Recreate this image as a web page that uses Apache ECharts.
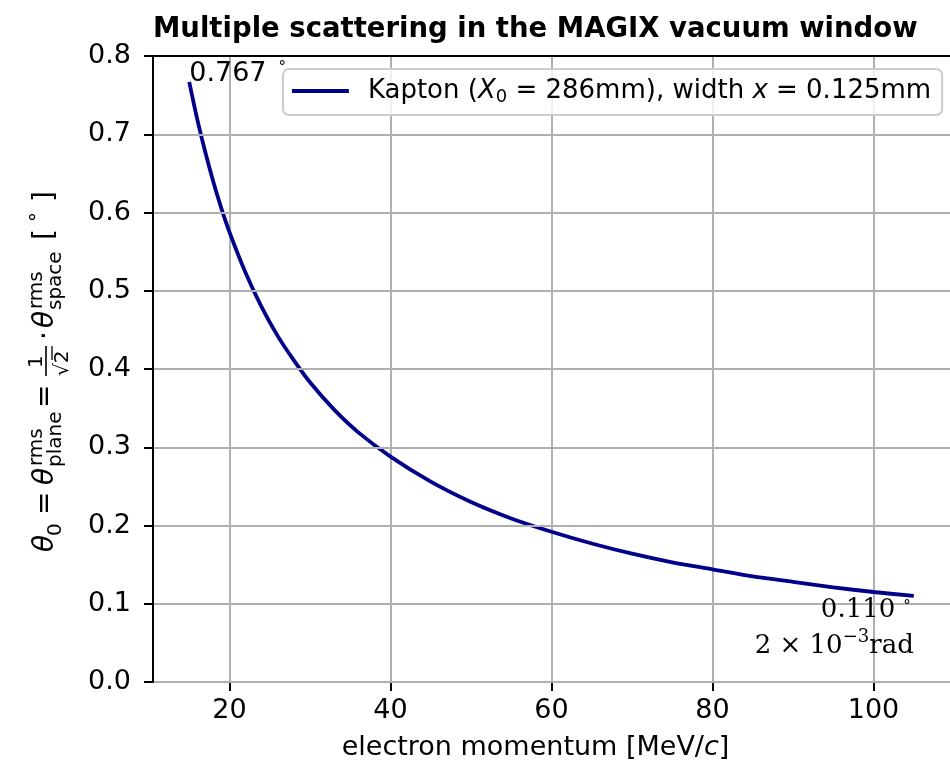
<!DOCTYPE html>
<html lang="en">
<head>
<meta charset="UTF-8">
<title>Multiple scattering in the MAGIX vacuum window</title>
<script src="https://cdn.jsdelivr.net/npm/echarts@6/dist/echarts.min.js"></script>
<style>
body{margin:0;background:#fff}
#main{width:950px;height:770px}
</style>
</head>
<body>
<div id="main"></div>
<script type="text/javascript">
// electron momentum [MeV/c] and theta_0 [deg]
var momentum = [15, 16, 17, 18, 19, 20, 22, 24, 26, 28, 30, 33, 36, 40, 45, 50, 55, 60, 65, 70, 75, 80, 85, 90, 95, 100, 105];
var theta = [0.767, 0.719, 0.677, 0.639, 0.605, 0.575, 0.523, 0.479, 0.442, 0.411, 0.383, 0.348, 0.319, 0.288, 0.256, 0.230, 0.209, 0.192, 0.177, 0.164, 0.153, 0.144, 0.135, 0.128, 0.121, 0.115, 0.110];
var xTicks = [20, 40, 60, 80, 100];
var seriesName = 'Kapton';

var FONT = 'DejaVu Sans';
var TS = 27;
var LS = 26;
var myChart = echarts.init(document.getElementById('main'));

var curve = [];
for (var i = 0; i < momentum.length; i++) {
    curve.push([momentum[i], theta[i]]);
}
var last = momentum.length - 1;

// y axis label, typeset piece by piece: [text, along, baseline offset, size, italic]
var FS = 28, SS = 20;
var pieces = [
    ['θ', 0, 0, FS, true],
    ['0', 16, 7, SS, false],
    ['=', 37, 0, FS, false],
    ['θ', 67, 0, FS, true],
    ['rms', 86, -12, SS, false],
    ['plane', 85, 7, SS, false],
    ['=', 144, 0, FS, false],
    ['1', 184, -12, SS, false],
    ['√2', 176, 14, SS, false],
    ['·', 212, 0, FS, false],
    ['θ', 224, 0, FS, true],
    ['rms', 243, -12, SS, false],
    ['space', 242, 7, SS, false],
    ['[', 312, 0, FS, false],
    ['°', 330, -10, SS, false],
    [']', 350, 0, FS, false]
];
var labelKids = pieces.map(function (p) {
    return {
        type: 'text',
        x: p[1],
        y: p[2] - 0.28 * p[3],
        style: {
            text: p[0],
            fontFamily: FONT,
            fontSize: p[3],
            fontStyle: p[4] ? 'italic' : 'normal',
            fill: '#000',
            align: 'left',
            verticalAlign: 'middle'
        }
    };
});
labelKids.push({type: 'line', shape: {x1: 176, y1: -8, x2: 206, y2: -8}, style: {stroke: '#000', lineWidth: 1.6}});
labelKids.push({type: 'line', shape: {x1: 192, y1: -2, x2: 206, y2: -2}, style: {stroke: '#000', lineWidth: 1.3}});

var option = {
    animation: false,
    backgroundColor: '#fff',
    title: {
        text: 'Multiple scattering in the MAGIX vacuum window',
        left: 148,
        top: 11,
        textStyle: {fontFamily: FONT, fontWeight: 'bold', fontSize: 27.5, color: '#000'}
    },
    grid: {
        left: 153,
        top: 56,
        width: 802,
        height: 626
    },
    legend: {
        data: [seriesName],
        left: 283,
        top: 69,
        padding: [9, 11, 9, 7],
        itemWidth: 57,
        itemHeight: 30,
        backgroundColor: 'rgba(255,255,255,0.8)',
        borderColor: '#cccccc',
        borderWidth: 2,
        borderRadius: 6,
        itemStyle: {color: 'rgba(0,0,0,0)', borderWidth: 0},
        lineStyle: {color: '#00008b', width: 3.8},
        formatter: function () {
            return '{p|Kapton (}{i|X}{s|0}{n| = 286mm), width }{i|x}{n| = 0.125mm}';
        },
        textStyle: {
            fontFamily: FONT,
            fontSize: LS,
            color: '#000',
            rich: {
                p: {fontFamily: FONT, fontSize: LS, lineHeight: 30, padding: [0, 0, 0, 14]},
                n: {fontFamily: FONT, fontSize: LS, lineHeight: 30},
                i: {fontFamily: FONT, fontSize: LS, fontStyle: 'italic', lineHeight: 30},
                s: {fontFamily: FONT, fontSize: 18, lineHeight: 30, verticalAlign: 'bottom'}
            }
        }
    },
    xAxis: [
        {
            type: 'value',
            min: 10.5,
            max: 109.5,
            name: '{n|electron momentum [MeV/}{i|c}{n|]}',
            nameLocation: 'middle',
            nameGap: 52,
            nameTextStyle: {
                fontFamily: FONT,
                fontSize: TS,
                color: '#000',
                padding: [0, 32, 0, 0],
                rich: {
                    n: {fontFamily: FONT, fontSize: TS},
                    i: {fontFamily: FONT, fontSize: TS, fontStyle: 'italic'}
                }
            },
            axisLine: {lineStyle: {color: '#000', width: 2}},
            axisTick: {customValues: xTicks, length: 9, lineStyle: {color: '#000', width: 2}},
            axisLabel: {customValues: xTicks, fontFamily: FONT, fontSize: TS, color: '#000', margin: 15},
            splitLine: {show: true, customValues: xTicks, lineStyle: {color: '#b0b0b0', width: 2}}
        },
        {
            // top spine only
            type: 'value',
            position: 'top',
            min: 10.5,
            max: 109.5,
            z: 5,
            axisLine: {show: true, lineStyle: {color: '#000', width: 2}},
            axisTick: {show: false},
            axisLabel: {show: false},
            splitLine: {show: false}
        }
    ],
    yAxis: {
        type: 'value',
        min: 0,
        max: 0.8,
        interval: 0.1,
        z: 4,
        axisLine: {show: true, lineStyle: {color: '#000', width: 2}},
        axisTick: {show: true, length: 9, lineStyle: {color: '#000', width: 2}},
        axisLabel: {
            fontFamily: FONT, fontSize: TS, color: '#000', margin: 22,
            formatter: function (v) { return v.toFixed(1); }
        },
        splitLine: {show: true, lineStyle: {color: '#b0b0b0', width: 2}}
    },
    graphic: [
        {type: 'group', x: 54, y: 552, rotation: Math.PI / 2, children: labelKids}
    ],
    series: [
        {
            name: seriesName,
            type: 'line',
            data: curve,
            symbol: 'none',
            smooth: 0.3,
            lineStyle: {color: '#00008b', width: 3.8},
            itemStyle: {color: '#00008b'},
            z: 3
        },
        {
            name: 'ends',
            type: 'scatter',
            symbolSize: 0,
            silent: true,
            z: 4,
            itemStyle: {opacity: 1},
            data: [
                {
                    value: [momentum[0], theta[0]],
                    label: {
                        show: true,
                        position: [0, 0],
                        align: 'left',
                        verticalAlign: 'bottom',
                        offset: [0, 6],
                        formatter: '{n|' + theta[0].toFixed(3) + '}{d|°}',
                        rich: {
                            n: {fontFamily: FONT, fontSize: TS, color: '#000'},
                            d: {fontFamily: FONT, fontSize: 15, color: '#000', padding: [0, 0, 0, 12], verticalAlign: 'top'}
                        }
                    }
                },
                {
                    value: [momentum[last], theta[last]],
                    label: {
                        show: true,
                        position: [0, 0],
                        align: 'right',
                        verticalAlign: 'top',
                        offset: [0, -4],
                        formatter: '{a|' + theta[last].toFixed(3) + '}{d|°}\n{b|2 × 10}{s|−3}{b|rad}',
                        rich: {
                            a: {fontFamily: 'DejaVu Serif', fontSize: 26, color: '#000', lineHeight: 36},
                            d: {fontFamily: 'DejaVu Serif', fontSize: 15, color: '#000', lineHeight: 24, padding: [7, 3, 0, 8], verticalAlign: 'top'},
                            b: {fontFamily: 'DejaVu Serif', fontSize: 26, color: '#000', lineHeight: 36},
                            s: {fontFamily: 'DejaVu Serif', fontSize: 18, color: '#000', lineHeight: 36, verticalAlign: 'top'}
                        }
                    }
                }
            ]
        }
    ]
};
myChart.setOption(option);
</script>
</body>
</html>
